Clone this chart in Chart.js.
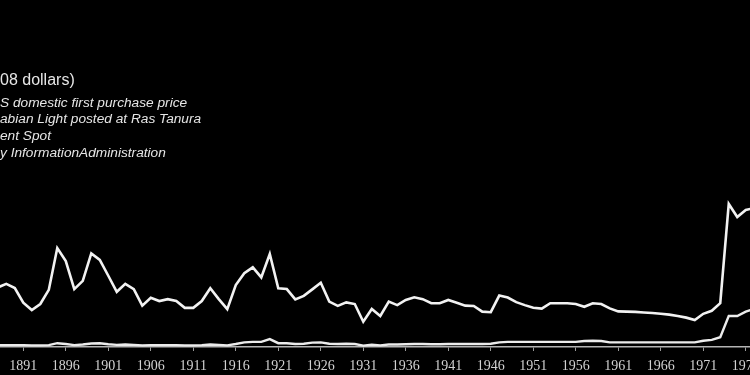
<!DOCTYPE html>
<html>
<head>
<meta charset="utf-8">
<script src="https://cdn.jsdelivr.net/npm/chart.js@4.4.1/dist/chart.umd.min.js"></script>
<style>
  html, body { margin: 0; padding: 0; background: #000; }
  #wrap { width: 750px; height: 375px; position: relative; }
</style>
</head>
<body>
<div id="wrap"><canvas id="oilChart"></canvas></div>
<script>
// Years shown on the chart
const years = [
  1888, 1889, 1890, 1891, 1892, 1893, 1894, 1895, 1896, 1897,
  1898, 1899, 1900, 1901, 1902, 1903, 1904, 1905, 1906, 1907,
  1908, 1909, 1910, 1911, 1912, 1913, 1914, 1915, 1916, 1917,
  1918, 1919, 1920, 1921, 1922, 1923, 1924, 1925, 1926, 1927,
  1928, 1929, 1930, 1931, 1932, 1933, 1934, 1935, 1936, 1937,
  1938, 1939, 1940, 1941, 1942, 1943, 1944, 1945, 1946, 1947,
  1948, 1949, 1950, 1951, 1952, 1953, 1954, 1955, 1956, 1957,
  1958, 1959, 1960, 1961, 1962, 1963, 1964, 1965, 1966, 1967,
  1968, 1969, 1970, 1971, 1972, 1973, 1974, 1975, 1976, 1977
];

// Price in 2008 dollars (upper line)
const realPrice = [
  21.9, 23.2, 21.7, 16.3, 13.6, 15.8, 21.0, 36.4, 31.6, 21.3,
  24.3, 34.4, 32.0, 26.2, 20.3, 23.2, 21.3, 15.2, 18.1, 16.9,
  17.6, 16.9, 14.4, 14.4, 16.9, 21.6, 17.6, 13.9, 22.8, 27.1,
  29.3, 25.6, 34.2, 21.6, 21.3, 17.5, 18.8, 21.2, 23.6, 16.7,
  15.1, 16.4, 15.8, 9.3, 14.0, 11.4, 16.7, 15.4, 17.3, 18.3,
  17.6, 16.1, 16.1, 17.3, 16.3, 15.2, 15.1, 13.0, 12.8, 18.9,
  18.2, 16.5, 15.4, 14.4, 14.1, 16.1, 16.1, 16.1, 15.8, 14.8,
  16.1, 15.8, 14.2, 13.1, 13.0, 12.9, 12.7, 12.5, 12.2, 11.9,
  11.4, 10.8, 9.9, 12.2, 13.3, 16.1, 52.6, 47.8, 50.4, 51.1
];

// Price in money of the day (lower line)
const nominalPrice = [
  0.7, 0.7, 0.7, 0.7, 0.6, 0.6, 0.7, 1.4, 1.1, 0.7,
  0.9, 1.3, 1.4, 1.0, 0.8, 0.9, 0.8, 0.6, 0.7, 0.7,
  0.7, 0.7, 0.6, 0.6, 0.7, 0.9, 0.8, 0.6, 1.1, 1.7,
  1.9, 1.9, 2.9, 1.4, 1.4, 1.1, 1.2, 1.6, 1.7, 1.2,
  1.1, 1.2, 1.1, 0.5, 0.8, 0.6, 0.9, 0.9, 1.0, 1.1,
  1.1, 1.0, 1.0, 1.1, 1.1, 1.1, 1.1, 1.1, 1.2, 1.7,
  1.9, 1.9, 1.9, 1.9, 1.9, 1.9, 1.9, 1.9, 1.9, 2.2,
  2.3, 2.2, 1.7, 1.7, 1.7, 1.7, 1.7, 1.7, 1.7, 1.7,
  1.7, 1.7, 1.7, 2.3, 2.6, 3.6, 11.4, 11.4, 13.0, 14.0
];

// Tick labels along the bottom
const tickYears = [1891, 1896, 1901, 1906, 1911, 1916, 1921, 1926, 1931,
                   1936, 1941, 1946, 1951, 1956, 1961, 1966, 1971, 1976];

// Text in the top left corner (cut off at the left edge)
const titleText = '08 dollars)';
const noteLines = [
  'S domestic first purchase price',
  'abian Light posted at Ras Tanura',
  'ent Spot',
  'y InformationAdministration'
];

const toPoints = (vals) => vals.map((v, i) => ({ x: years[i], y: v }));

const blackBackground = {
  id: 'blackBackground',
  beforeDraw(chart) {
    const ctx = chart.ctx;
    ctx.save();
    ctx.fillStyle = '#000';
    ctx.fillRect(0, 0, chart.width, chart.height);
    ctx.restore();
  }
};

const cornerText = {
  id: 'cornerText',
  afterDraw(chart) {
    const ctx = chart.ctx;
    ctx.save();
    ctx.fillStyle = '#e6e6e6';
    ctx.textBaseline = 'alphabetic';
    ctx.textAlign = 'left';
    ctx.font = '16px "Liberation Sans", Arial, sans-serif';
    ctx.fillText(titleText, 0, 85);
    ctx.font = 'italic 13.7px "Liberation Sans", Arial, sans-serif';
    noteLines.forEach((line, i) => {
      ctx.fillText(line, 0, 106.7 + i * 16.7);
    });
    ctx.restore();
  }
};

const config = {
  type: 'line',
  data: {
    datasets: [{
      label: 'Price in 2008 dollars',
      data: toPoints(realPrice),
      borderColor: '#f2f2f2',
      borderWidth: 2.6,
      pointRadius: 0,
      tension: 0,
      fill: false
    }, {
      label: 'Nominal price',
      data: toPoints(nominalPrice),
      borderColor: '#ececec',
      borderWidth: 2.4,
      pointRadius: 0,
      tension: 0,
      fill: false
    }]
  },
  options: {
    responsive: true,
    maintainAspectRatio: false,
    animation: false,
    layout: { padding: 0 },
    plugins: {
      legend: { display: false },
      tooltip: { enabled: false }
    },
    scales: {
      x: {
        type: 'linear',
        min: 1888.26,
        max: 1976.5,
        border: { display: true, color: '#b4b4b4', width: 1.5 },
        grid: { drawOnChartArea: false, drawTicks: true, tickLength: 4, color: '#9a9a9a' },
        ticks: {
          color: '#d2d2d2',
          padding: 7,
          autoSkip: false,
          maxRotation: 0,
          font: { family: '"Liberation Serif", "Times New Roman", serif', size: 14 },
          callback: (v) => String(v)
        },
        afterBuildTicks: (scale) => {
          scale.ticks = tickYears.map(v => ({ value: v }));
        },
        afterFit: (scale) => {
          scale.height = 28;
          scale.paddingLeft = 0;
          scale.paddingRight = 0;
        }
      },
      y: {
        display: false,
        min: 0,
        max: 127.6
      }
    }
  },
  plugins: [blackBackground, cornerText]
};

window.addEventListener('DOMContentLoaded', () => {
  const oilChart = new Chart(document.getElementById('oilChart'), config);
});
</script>
</body>
</html>
